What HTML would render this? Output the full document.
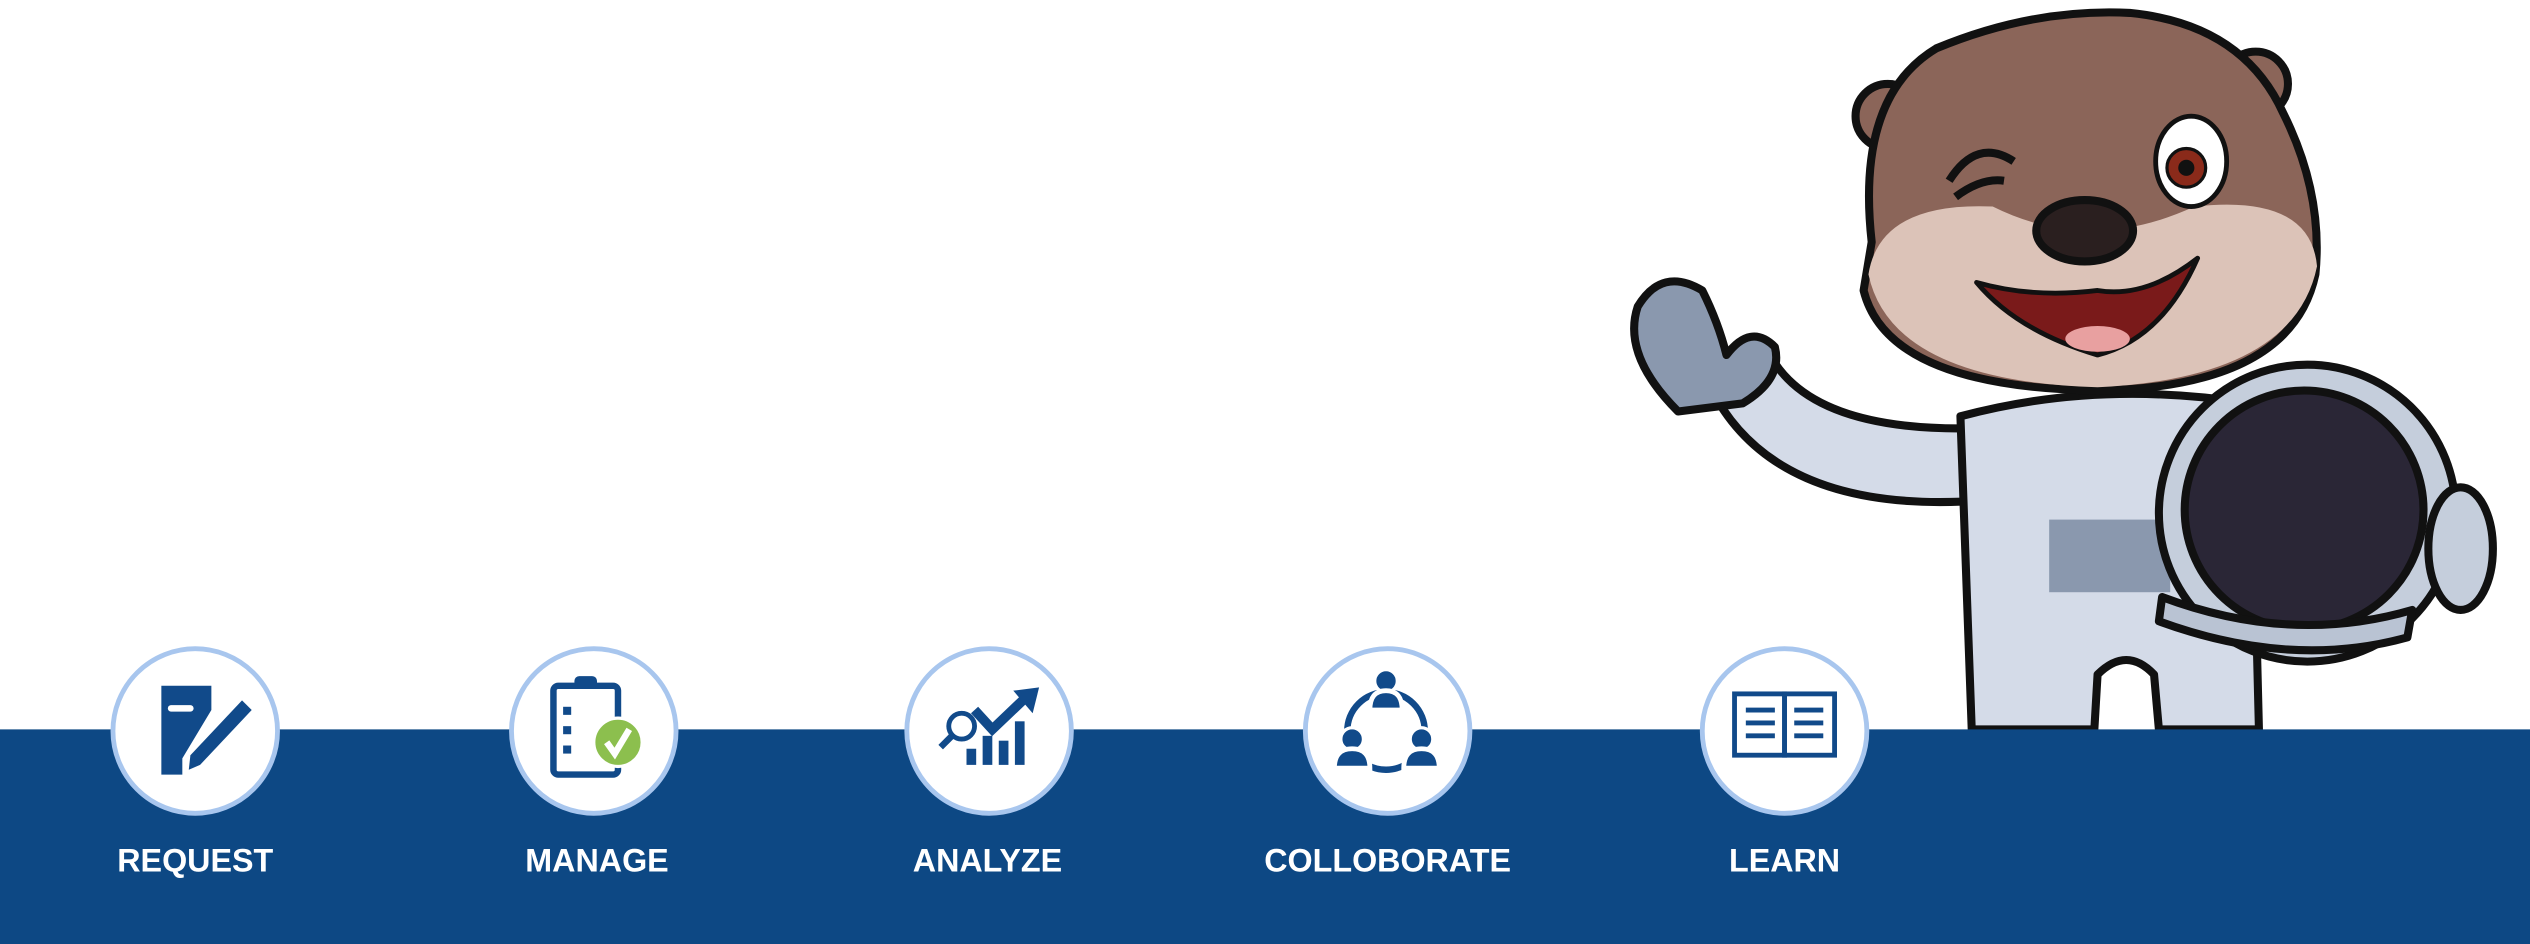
<!DOCTYPE html>
<html><head><meta charset="utf-8"><style>
html,body{margin:0;padding:0;background:#fff;width:2530px;height:944px;overflow:hidden}
svg{display:block}
</style></head><body>
<svg width="2530" height="944" viewBox="0 0 1568 585" preserveAspectRatio="none" xmlns="http://www.w3.org/2000/svg">
<rect width="1568" height="585" fill="#fff"/>
<!-- otter -->
<g stroke="#111" stroke-width="5" stroke-linejoin="round">
  <path d="M1060,240 Q1100,320 1230,310 L1235,265 Q1130,270 1100,225 Z" fill="#d4dbe8"/>
  <path d="M1040,255 Q1005,220 1015,190 Q1030,165 1055,180 Q1065,200 1070,220 Q1085,200 1100,215 Q1105,235 1080,250 Z" fill="#8a98ae"/>
  <path d="M1215,258 Q1300,235 1395,250 L1400,452 L1338,452 L1335,418 Q1318,400 1300,418 L1298,452 L1222,452 Z" fill="#d4dbe8"/>
  <rect x="1270" y="322" width="75" height="45" fill="#8a98ae" stroke-width="0"/>
  <circle cx="1430" cy="318" r="92" fill="#c5cedc"/>
  <circle cx="1428" cy="316" r="74" fill="#2a2636"/>
  <path d="M1340,370 Q1420,400 1495,378 L1492,395 Q1420,415 1338,385 Z" fill="#b9c3d3"/>
  <ellipse cx="1525" cy="340" rx="20" ry="38" fill="#c5cedc"/>
  <circle cx="1170" cy="72" r="20" fill="#8b6559"/>
  <circle cx="1398" cy="52" r="20" fill="#8b6559"/>
  <path d="M1160,150 Q1150,60 1200,30 Q1260,5 1320,8 Q1390,15 1415,70 Q1440,120 1435,170 Q1420,240 1300,242 Q1170,240 1155,180 Z" fill="#8b6559"/>
  <path d="M1158,170 Q1165,125 1235,128 Q1295,158 1360,128 Q1432,120 1436,165 Q1422,234 1300,240 Q1172,236 1158,170 Z" fill="#dcc3b8" stroke-width="0"/>
  <ellipse cx="1292" cy="143" rx="30" ry="19" fill="#2a1f1f"/>
  <path d="M1225,175 Q1250,205 1300,220 Q1340,210 1362,160 Q1330,185 1300,180 Q1260,185 1225,175 Z" fill="#7a1a1a" stroke-width="3"/>
  <ellipse cx="1300" cy="210" rx="20" ry="8" fill="#e8a0a0" stroke-width="0"/>
  <ellipse cx="1358" cy="100" rx="22" ry="28" fill="#fff" stroke-width="3"/>
  <circle cx="1355" cy="104" r="12" fill="#8a2a1a" stroke-width="2"/>
  <circle cx="1355" cy="104" r="5" fill="#111" stroke-width="0"/>
  <path d="M1208,112 Q1225,85 1248,100 M1212,122 Q1228,110 1242,112" fill="none" stroke-width="5"/>
</g>
<rect x="0" y="452" width="1568" height="133" fill="#0d4884"/>
<g fill="#fff" stroke="#a8c6ee" stroke-width="3">
  <circle cx="121" cy="453" r="51"/>
  <circle cx="368" cy="453" r="51"/>
  <circle cx="613" cy="453" r="51"/>
  <circle cx="860" cy="453" r="51"/>
  <circle cx="1106" cy="453" r="51"/>
</g>
<g fill="#114a8a">
  <path d="M100,425 L131,425 L131,440 L113,470 L113,480 L100,480 Z"/>
  <rect x="104" y="437" width="16" height="4" rx="2" fill="#fff"/>
  <path d="M118,468 L150,434 L156,440 L124,474 L117,477 Z"/>
  <rect x="343" y="425" width="40" height="55" rx="3" fill="none" stroke="#114a8a" stroke-width="4"/>
  <rect x="356" y="419" width="14" height="8" rx="3"/>
  <rect x="349" y="438" width="5" height="5"/><rect x="349" y="450" width="5" height="5"/><rect x="349" y="462" width="5" height="5"/>
  <circle cx="383" cy="460" r="15" fill="#8cbf4e" stroke="#fff" stroke-width="2"/>
  <path d="M376,460 L381,467 L390,452" stroke="#fff" stroke-width="4" fill="none"/>
  <circle cx="596" cy="450" r="8" fill="none" stroke="#114a8a" stroke-width="3"/>
  <path d="M590,456 L583,463" stroke="#114a8a" stroke-width="4"/>
  <rect x="599" y="464" width="6" height="10"/><rect x="609" y="456" width="6" height="18"/><rect x="619" y="459" width="6" height="15"/><rect x="629" y="447" width="6" height="27"/>
  <path d="M604,440 L615,452 L636,432" stroke="#114a8a" stroke-width="6" fill="none"/>
  <path d="M628,428 L644,426 L640,442 Z"/>
  <circle cx="859" cy="453" r="24" fill="none" stroke="#114a8a" stroke-width="4"/>
  <circle cx="859" cy="422" r="7" stroke="#fff" stroke-width="2"/><path d="M849,440 Q849,428 859,428 Q869,428 869,440 Z" stroke="#fff" stroke-width="3"/>
  <circle cx="838" cy="458" r="7" stroke="#fff" stroke-width="2"/><path d="M827,476 Q827,464 838,464 Q849,464 849,476 Z" stroke="#fff" stroke-width="3"/>
  <circle cx="881" cy="458" r="7" stroke="#fff" stroke-width="2"/><path d="M870,476 Q870,464 881,464 Q892,464 892,476 Z" stroke="#fff" stroke-width="3"/>
  <g fill="none" stroke="#114a8a" stroke-width="3">
    <rect x="1075" y="430" width="31" height="38"/><rect x="1106" y="430" width="31" height="38"/>
    <path d="M1082,440 H1100 M1082,448 H1100 M1082,456 H1100 M1112,440 H1130 M1112,448 H1130 M1112,456 H1130"/>
  </g>
</g>
<g fill="#fff" font-family="Liberation Sans, sans-serif" font-weight="bold" font-size="20" text-anchor="middle">
  <text x="121" y="540">REQUEST</text>
  <text x="370" y="540">MANAGE</text>
  <text x="612" y="540">ANALYZE</text>
  <text x="860" y="540">COLLOBORATE</text>
  <text x="1106" y="540">LEARN</text>
</g>
</svg>
</body></html>
